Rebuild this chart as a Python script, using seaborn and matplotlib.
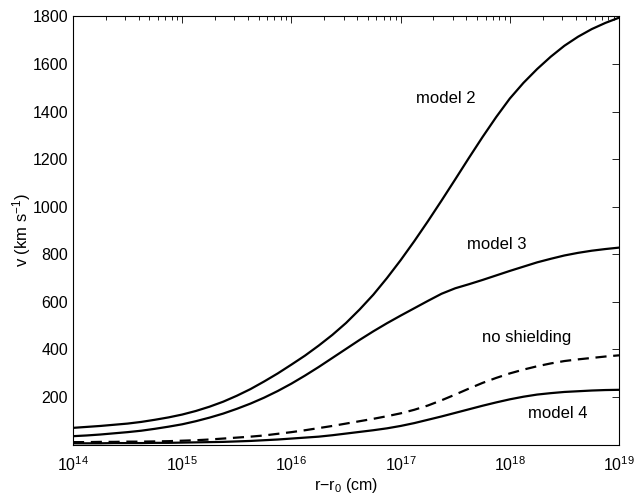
import numpy as np
import pandas as pd
import matplotlib
matplotlib.use("Agg")
import matplotlib.pyplot as plt
import seaborn as sns
from matplotlib.ticker import LogLocator, NullFormatter

# log10 of r - r0 (cm)
log_r = [14.0, 14.125, 14.25, 14.375, 14.5, 14.625, 14.75, 14.875,
         15.0, 15.125, 15.25, 15.375, 15.5, 15.625, 15.75, 15.875,
         16.0, 16.125, 16.25, 16.375, 16.5, 16.625, 16.75, 16.875,
         17.0, 17.125, 17.25, 17.375, 17.5, 17.625, 17.75, 17.875,
         18.0, 18.125, 18.25, 18.375, 18.5, 18.625, 18.75, 18.875, 19.0]
model2 = [70, 74, 78, 83, 88, 95, 104, 114,
          126, 141, 159, 180, 205, 233, 265, 299,
          336, 374, 416, 461, 511, 568, 630, 700,
          775, 855, 939, 1026, 1115, 1205, 1293, 1377,
          1455, 1521, 1579, 1631, 1677, 1715, 1747, 1773, 1795]
model3 = [35, 38, 42, 47, 52, 58, 66, 75,
          85, 98, 113, 130, 150, 172, 197, 225,
          256, 290, 326, 364, 402, 440, 476, 510,
          542, 573, 604, 634, 657, 674, 692, 711,
          730, 748, 766, 781, 795, 806, 815, 822, 828]
no_shield = [10, 10, 11, 11, 12, 12, 13, 14,
             16, 18, 21, 25, 29, 33, 38, 45,
             52, 60, 69, 78, 88, 98, 108, 119,
             131, 146, 164, 186, 210, 235, 259, 280,
             299, 315, 329, 341, 351, 358, 364, 370, 375]
model4 = [5, 5, 5, 6, 6, 6, 7, 7,
          8, 9, 10, 11, 13, 15, 18, 21,
          25, 29, 33, 39, 46, 53, 60, 68,
          78, 90, 104, 118, 133, 148, 163, 177,
          190, 201, 210, 216, 221, 224, 227, 229, 230]

labels = ["model 2", "model 3", "no shielding", "model 4"]
label_pos = [(10**17.41, 1457), (10**17.88, 843), (10**18.15, 448), (10**18.44, 132)]
yticks = [200, 400, 600, 800, 1000, 1200, 1400, 1600, 1800]

sns.set_style("white")
plt.rcParams['font.family'] = ['Liberation Sans', 'DejaVu Sans']
plt.rcParams['mathtext.fontset'] = 'custom'
plt.rcParams['mathtext.rm'] = 'Liberation Sans'
plt.rcParams['mathtext.it'] = 'Liberation Sans'
for k in ['text.color', 'axes.labelcolor', 'xtick.color', 'ytick.color', 'axes.edgecolor']:
    plt.rcParams[k] = 'black'

r = np.power(10.0, log_r)
df = pd.DataFrame({"r": r, "model2": model2, "model3": model3,
                   "noshield": no_shield, "model4": model4})

fig = plt.figure(figsize=(6.36, 4.94), dpi=100)
ax = fig.add_axes([0.1148, 0.1002, 0.8585, 0.8664])
ax.set_xscale("log")

lw = 1.6
sns.lineplot(data=df, x="r", y="model2", ax=ax, color="black", lw=lw)
sns.lineplot(data=df, x="r", y="model3", ax=ax, color="black", lw=lw)
sns.lineplot(data=df, x="r", y="noshield", ax=ax, color="black", lw=lw)
ax.lines[-1].set_dashes((5.0, 3.0))
sns.lineplot(data=df, x="r", y="model4", ax=ax, color="black", lw=lw)

for t, (x, y) in zip(labels, label_pos):
    ax.text(x, y, t, ha="center", va="center", fontsize=12)

ax.set_xlim(1e14, 1e19)
ax.set_ylim(0, 1800)
ax.set_yticks(yticks)
ax.set_xticks([1e14, 1e15, 1e16, 1e17, 1e18, 1e19])
ax.xaxis.set_minor_locator(LogLocator(base=10, subs=np.arange(2, 10), numticks=20))
ax.xaxis.set_minor_formatter(NullFormatter())
ax.tick_params(axis="both", which="both", direction="in", top=True, right=True,
               labelsize=11.5, color="black", labelcolor="black")
ax.tick_params(which="major", length=5, width=0.6)
ax.tick_params(which="minor", length=3, width=0.6)
ax.tick_params(axis="x", pad=8)
for s in ax.spines.values():
    s.set_color("black")
    s.set_linewidth(0.8)

ax.set_xlabel("r\u2212r$_0$ (cm)", fontsize=11.5, labelpad=1)
ax.set_ylabel("v (km s$^{-1}$)", fontsize=12, labelpad=0)

fig.savefig("out.png", dpi=100)
